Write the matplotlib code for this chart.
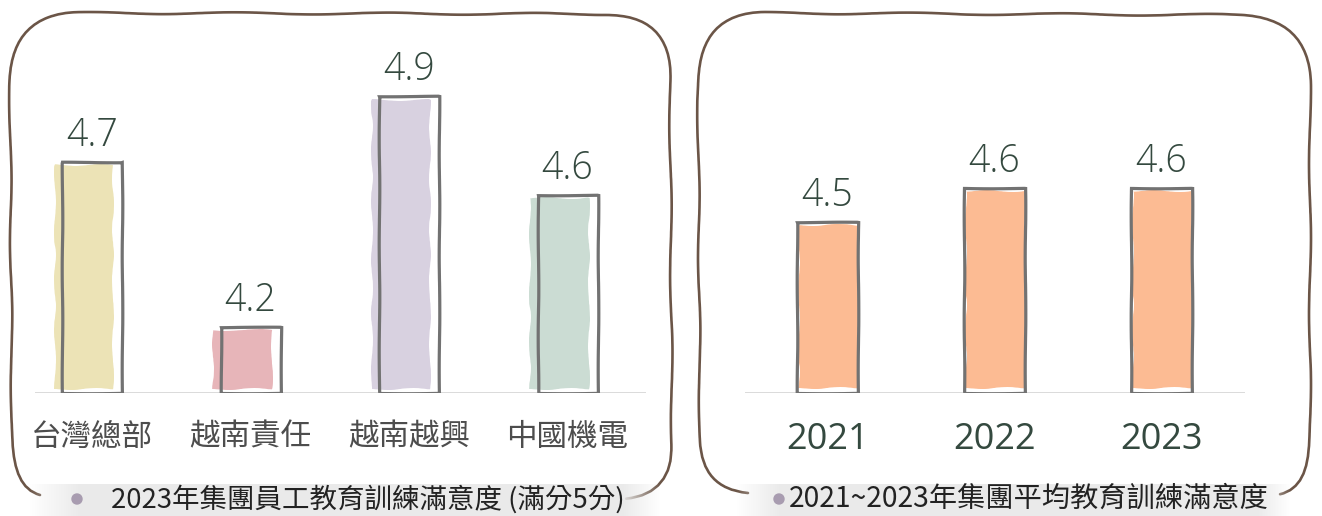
import numpy as np
import matplotlib

matplotlib.use("Agg")

import matplotlib.pyplot as plt
from matplotlib.path import Path
from matplotlib.patches import PathPatch, Circle

# data
sites = ["台灣總部", "越南責任", "越南越興", "中國機電"]
site_scores = [4.7, 4.2, 4.9, 4.6]
site_colors = ["#ece3b6", "#e7b5b9", "#d8d1e0", "#cbdcd3"]

years = ["2021", "2022", "2023"]
year_scores = [4.5, 4.6, 4.6]
year_color = "#fcbb93"

left_caption = "2023年集團員工教育訓練滿意度 (滿分5分)"
right_caption = "2021~2023年集團平均教育訓練滿意度"

CJK = ["Noto Sans CJK TC", "DejaVu Sans"]
HAND = ["Open Sans", "DejaVu Sans"]
INK = "#34493f"
BORDER = "#6b5547"
OUTLINE = "#727272"

W, H = 1322, 516
fig = plt.figure(figsize=(W / 100, H / 100), dpi=100)
fig.patch.set_facecolor("white")

# pixel-space overlay for borders and captions
bg = fig.add_axes([0, 0, 1, 1], zorder=0)
bg.set_xlim(0, W)
bg.set_ylim(H, 0)
bg.axis("off")


def frame(points):
    verts = [points[0]]
    codes = [Path.MOVETO]
    for kind, *pts in points[1:]:
        if kind == "L":
            verts.append(pts[0])
            codes.append(Path.LINETO)
        else:
            verts.extend(pts)
            codes.extend([Path.CURVE3, Path.CURVE3])
    patch = PathPatch(Path(verts, codes), fill=False, edgecolor=BORDER,
                      lw=1.9, capstyle="round", zorder=2)
    patch.set_sketch_params(1.0, 160, 2)
    bg.add_patch(patch)


frame([(40, 495), ("Q", (12, 488), (12, 440)), ("L", (10, 80)),
       ("Q", (10, 13), (78, 13)), ("L", (605, 14)),
       ("Q", (670, 14), (670, 80)), ("L", (672, 445)),
       ("Q", (672, 492), (626, 498))])
frame([(748, 493), ("Q", (700, 490), (700, 440)), ("L", (698, 80)),
       ("Q", (698, 13), (765, 13)), ("L", (1240, 15)),
       ("Q", (1310, 15), (1310, 85)), ("L", (1310, 440)),
       ("Q", (1310, 488), (1280, 494))])


def caption_band(x0, x1):
    xs = np.linspace(0, 1, 200)
    alpha = np.clip(np.minimum(xs / 0.08, (1 - xs) / 0.06), 0, 1) * 0.95
    img = np.ones((1, 200, 4))
    img[..., :3] = 0.915
    img[0, :, 3] = alpha
    bg.imshow(img, extent=(x0, x1, 516, 484), aspect="auto", zorder=3,
              interpolation="bilinear")


caption_band(28, 662)
caption_band(735, 1292)
bg.set_xlim(0, W)
bg.set_ylim(H, 0)

bg.add_patch(Circle((77, 499), 5, color="#a89cb0", zorder=4))
bg.text(111, 499, left_caption, family=CJK, fontsize=19.8, color="#222222",
        va="center", ha="left", zorder=5)
bg.add_patch(Circle((779, 499), 5, color="#a89cb0", zorder=4))
bg.text(789, 499, right_caption, family=CJK, fontsize=20.3, color="#222222",
        va="center", ha="left", zorder=5)


def bar_panel(rect, labels, values, colors, xlim, ytop, width, shift,
              tick_font, tick_size, tick_color):
    ax = fig.add_axes(rect, zorder=1)
    ax.patch.set_alpha(0)
    ax.set_xlim(*xlim)
    ax.set_ylim(4.0, ytop)
    x = np.arange(len(values))
    base = 4.0
    heights = np.array(values) - base
    fills = ax.bar(x + shift, heights - 0.022, width=width * 0.97,
                   bottom=base + 0.012, color=colors, edgecolor="none", zorder=2)
    for p in fills:
        p.set_sketch_params(1.0, 70, 3)
    outs = ax.bar(x, heights, width=width, bottom=base, facecolor="none",
                  edgecolor=OUTLINE, lw=2.3, zorder=3)
    for p in outs:
        p.set_sketch_params(0.3, 120, 2)
    ax.axhline(base, color="#d4d4d4", lw=1.2, zorder=1)
    for xi, v in zip(x, values):
        ax.annotate(f"{v:.1f}", (xi, v), xytext=(0, 11.5),
                    textcoords="offset points", ha="center", va="baseline",
                    family=HAND, fontsize=27, fontweight="light", color=INK)
    ax.set_xticks(x)
    ax.set_xticklabels(labels, family=tick_font, fontsize=tick_size,
                       color=tick_color)
    ax.tick_params(axis="x", length=0, pad=21)
    ax.set_yticks([])
    for s in ax.spines.values():
        s.set_visible(False)
    return ax


bottom = (H - 392.5) / H
height = 352.5 / H
bar_panel([35 / W, bottom, 611 / W, height], sites, site_scores, site_colors,
          (-0.36, 3.495), 4.0 + 352.5 / 329, 0.379, -0.05,
          CJK, 22, "#4d4d4d")
bar_panel([745 / W, bottom, 500 / W, height], years, year_scores,
          [year_color] * 3, (-0.494, 2.5), 4.0 + 352.5 / 341, 0.365, 0.005,
          HAND, 26, INK)

fig.savefig("out.png", dpi=100)
